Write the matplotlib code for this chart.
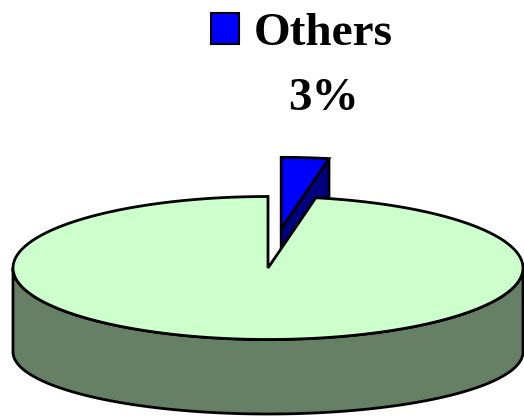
import numpy as np
import matplotlib
matplotlib.use("Agg")
import matplotlib.pyplot as plt
from matplotlib.patches import Polygon, Rectangle

# data
categories = ["Others", "Rest"]
values = [3, 97]
top_colors = ["#0000FF", "#CCFFCC"]
side_colors = ["#000080", "#668066"]
explode = [0.55, 0.0]

# pie geometry (pixel units of the axes)
cx, cy = 268.0, 268.0
a, b = 255.0, 71.5
depth = 84.0
b_bottom = 62.0


def pt(t, ox=0.0, oy=0.0, bb=b, dy=0.0):
    r = np.radians(t)
    return (cx + ox + a * np.cos(r), cy + oy + dy - bb * np.sin(r))


def arc(t0, t1, ox=0.0, oy=0.0, bb=b, dy=0.0, n=300):
    ts = np.linspace(t0, t1, n)
    return [pt(t, ox, oy, bb, dy) for t in ts]


fig = plt.figure(figsize=(5.24, 4.16), dpi=100)
ax = fig.add_axes([0, 0, 1, 1])
ax.set_xlim(0, 524)
ax.set_ylim(416, 0)
ax.axis("off")

total = float(sum(values))
start = 90.0
spans = []
for v in values:
    sweep = 360.0 * v / total
    spans.append((start - sweep, start))
    start -= sweep

lw = 2.0

# small exploded slice (behind the big one)
t0, t1 = spans[0]
mid = np.radians((t0 + t1) / 2)
ox = explode[0] * a * np.cos(mid)
oy = -explode[0] * b * np.sin(mid)
apex = (cx + ox, cy + oy)
apex_b = (cx + ox, cy + oy + depth)
# left radial face (edge on)
ax.add_patch(Polygon([apex, pt(t1, ox, oy), pt(t1, ox, oy, dy=depth), apex_b],
                     closed=True, fc=side_colors[0], ec="black", lw=lw, zorder=1))
# right radial face
ax.add_patch(Polygon([apex, pt(t0, ox, oy), pt(t0, ox, oy, dy=depth), apex_b],
                     closed=True, fc=side_colors[0], ec="black", lw=lw, zorder=1))
# top face
ax.add_patch(Polygon([apex] + arc(t1, t0, ox, oy), closed=True,
                     fc=top_colors[0], ec="black", lw=lw, zorder=2))

# big slice
t0, t1 = spans[1]
side = arc(180, 360) + arc(360, 180, bb=b_bottom, dy=depth)
ax.add_patch(Polygon(side, closed=True, fc=side_colors[1], ec="black", lw=lw,
                     zorder=3))
ax.add_patch(Polygon([(cx, cy)] + arc(t1, t0), closed=True,
                     fc=top_colors[1], ec="black", lw=lw, zorder=4))

# label for the small slice
pct = "%d%%" % round(100 * values[0] / total)
ax.add_patch(Rectangle((211, 13), 28, 31, fc=top_colors[0], ec="black",
                       lw=1.5, zorder=5))
ax.text(323, 45, categories[0], ha="center", va="baseline",
        family="Liberation Serif", weight="bold", fontsize=34, zorder=5)
ax.text(323, 110, pct, ha="center", va="baseline",
        family="Liberation Serif", weight="bold", fontsize=34, zorder=5)

plt.savefig("out.png", dpi=100)
